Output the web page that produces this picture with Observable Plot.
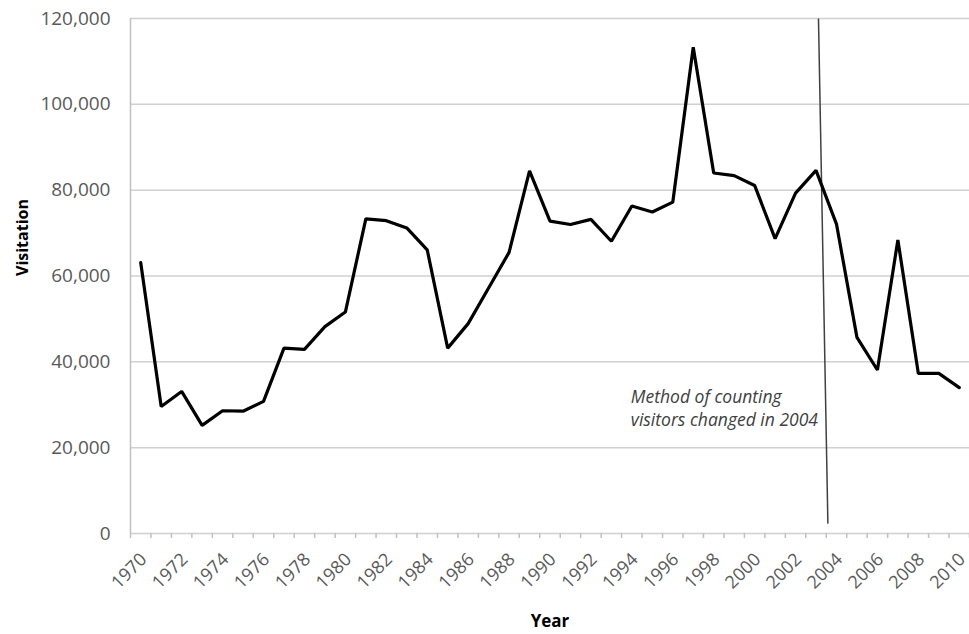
<!DOCTYPE html>
<html><head><meta charset="utf-8">
<script src="https://cdn.jsdelivr.net/npm/d3@7"></script>
<script src="https://cdn.jsdelivr.net/npm/@observablehq/plot@0.6"></script>
<style>body{margin:0;background:#fff}</style>
</head><body><div id="chart"></div>
<script>
const years = [1970,1971,1972,1973,1974,1975,1976,1977,1978,1979,1980,1981,1982,1983,1984,1985,1986,1987,1988,1989,1990,1991,1992,1993,1994,1995,1996,1997,1998,1999,2000,2001,2002,2003,2004,2005,2006,2007,2008,2009,2010];
const visitation = [63100,29600,33100,25200,28600,28500,30800,43200,42900,48200,51600,73300,72900,71200,66100,43200,48900,57200,65500,84500,72800,72000,73200,68100,76300,74900,77200,113300,84000,83400,81100,68700,79300,84600,72100,45700,38100,68400,37300,37300,34000];
const yTicks = [0,20000,40000,60000,80000,100000,120000];
const xLabelYears = [1970,1972,1974,1976,1978,1980,1982,1984,1986,1988,1990,1992,1994,1996,1998,2000,2002,2004,2006,2008,2010];
const changeLine = [{x1: 2003.12, y1: 120000, x2: 2003.58, y2: 2300}];
const note = [{x: 1993.95, y: 34200, text: "Method of counting\nvisitors changed in 2004"}];

const rows = years.map((y, i) => ({year: y, value: visitation[i]}));
const boundaries = years.map(y => y - 0.5).concat([years[years.length - 1] + 0.5]);
const font = "'Open Sans', sans-serif";

const chart = Plot.plot({
  width: 969,
  height: 634,
  marginLeft: 130,
  marginRight: 0,
  marginTop: 18,
  marginBottom: 101,
  style: {fontFamily: font, background: "#fff"},
  x: {type: "linear", domain: [boundaries[0], boundaries[boundaries.length - 1]], axis: null},
  y: {domain: [0, 120000], axis: null},
  marks: [
    Plot.ruleY(yTicks, {stroke: "#d0d0d0", strokeWidth: 1.5}),
    Plot.ruleX([boundaries[0]], {stroke: "#c0c0c0", strokeWidth: 1.5}),
    Plot.axisX({ticks: boundaries, tickFormat: () => "", tickSize: 5, stroke: "#c0c0c0", strokeWidth: 1.5, label: null}),
    Plot.axisY({ticks: yTicks, tickSize: 0, tickPadding: 20, tickFormat: d3.format(","), fontSize: 19, color: "#595959", label: null}),
    Plot.text(xLabelYears, {x: d => d, y: () => 0, text: d => String(d), rotate: -45, textAnchor: "end", lineAnchor: "middle", dx: 3, dy: 23, fontSize: 18, fill: "#595959"}),
    Plot.text(["Visitation"], {frameAnchor: "left", dx: -108, rotate: -90, fontWeight: "bold", fontSize: 16, fill: "#000"}),
    Plot.text(["Year"], {frameAnchor: "bottom", dy: 93, fontWeight: "bold", fontSize: 17, fill: "#000"}),
    Plot.link(changeLine, {x1: "x1", y1: "y1", x2: "x2", y2: "y2", stroke: "#404040", strokeWidth: 1.5}),
    Plot.line(rows, {x: "year", y: "value", stroke: "#000", strokeWidth: 3.2, strokeLinejoin: "miter"}),
    Plot.text(note, {x: "x", y: "y", text: "text", textAnchor: "start", lineAnchor: "top", fontStyle: "italic", fontSize: 17.5, lineHeight: 1.32, fill: "#404040"})
  ]
});
document.getElementById("chart").appendChild(chart);
</script>
</body></html>
